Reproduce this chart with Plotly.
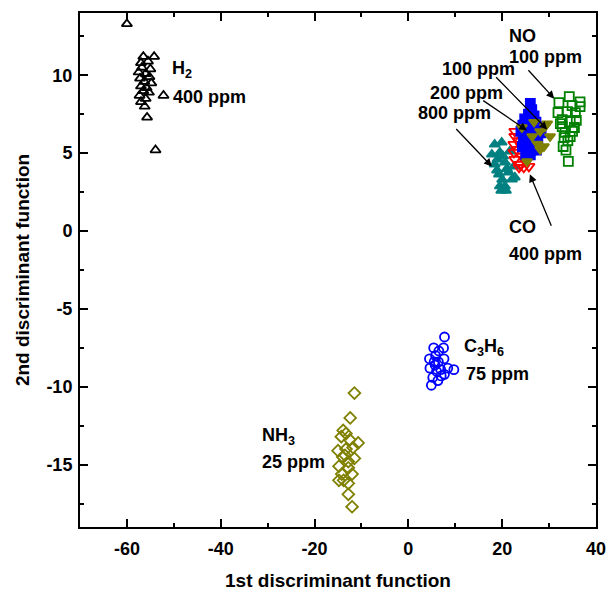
import plotly.graph_objects as go

# ---- data ----
h2_x = [-60.0, -56.5, -54.2, -57.0, -55.5, -56.8, -55.0, -57.5, -56.0, -55.2, -57.2, -56.3, -54.8,
        -57.0, -55.8, -56.5, -55.3, -57.3, -56.0, -52.2, -57.0, -56.2, -55.7, -53.9]
h2_y = [13.3, 11.2, 11.2, 10.8, 10.9, 10.5, 10.4, 10.2, 10.1, 9.9, 9.8, 9.6, 9.5,
        9.3, 9.2, 9.0, 8.9, 8.7, 8.5, 8.7, 8.3, 8.0, 7.3, 5.2]

no_x = [34.3, 32.1, 34.9, 36.6, 36.6, 31.9, 33.9, 35.6, 32.8, 34.5, 32.8, 35.4, 33.4,
        33.2, 34.5, 33.0, 34.1, 35.8, 32.4, 34.0, 35.0, 33.6]
no_y = [8.63, 8.25, 8.05, 8.3, 7.99, 7.6, 7.67, 7.6, 7.16, 7.03, 6.71, 6.65, 6.33,
        6.0, 6.07, 5.43, 4.47, 7.1, 6.9, 5.8, 6.4, 5.2]

b200_x = [26.0, 26.3, 25.6, 26.8, 24.8, 25.8, 27.2, 24.4, 25.3, 26.5, 27.8, 24.0, 25.0,
          26.0, 27.0, 28.3, 24.5, 25.5, 26.6, 27.6, 24.3, 25.3, 26.2, 27.3, 25.0, 26.0]
b200_y = [8.2, 7.8, 7.5, 7.4, 7.2, 7.1, 7.0, 6.8, 6.8, 6.7, 6.7, 6.4, 6.3,
          6.3, 6.2, 6.3, 5.9, 5.8, 5.8, 5.7, 5.4, 5.3, 5.2, 5.2, 4.9, 4.9]

co_x = [22.7, 22.7, 22.5, 23.1, 22.5, 22.7, 23.8, 23.6, 24.6, 25.7, 24.9, 24.2, 23.5, 24.0]
co_y = [6.4, 6.07, 5.56, 5.24, 5.05, 4.6, 4.28, 4.09, 4.09, 4.15, 4.47, 4.8, 5.8, 5.5]

o100_x = [26.8, 29.1, 30.2, 28.9, 28.1, 26.4, 25.3, 28.1, 24.2, 29.6, 27.5]
o100_y = [7.0, 6.7, 6.07, 5.43, 5.24, 6.07, 4.47, 6.4, 6.65, 6.9, 5.6]

t800_x = [18.4, 19.9, 17.8, 19.5, 21.6, 18.4, 20.6, 22.5, 19.3, 21.4, 22.7, 19.5, 20.6,
          22.1, 19.0, 20.2, 18.9, 20.0, 21.0, 19.8, 20.8]
t800_y = [5.56, 5.69, 4.92, 5.05, 5.11, 4.28, 4.41, 4.15, 3.64, 3.77, 3.45, 2.88, 2.88,
          3.32, 4.6, 4.8, 3.9, 3.3, 4.0, 2.6, 2.6]

c3h6_x = [7.7, 5.4, 7.5, 6.5, 4.5, 5.8, 6.4, 7.6, 4.6, 5.7, 6.9, 8.4, 9.7, 6.0, 7.0, 7.7, 5.2, 6.3, 4.9, 5.5]
c3h6_y = [-6.8, -7.5, -7.5, -7.7, -8.2, -8.0, -8.4, -8.2, -8.8, -8.6, -8.9, -8.8, -8.9, -9.0,
          -9.3, -9.2, -9.4, -9.6, -9.9, -8.4]

nh3_x = [-11.5, -12.4, -13.9, -13.3, -14.3, -10.7, -12.5, -15.0, -13.3, -11.8, -14.0, -11.5, -12.8,
         -14.8, -12.8, -14.2, -12.0, -14.8, -12.8, -13.8, -12.8, -12.0, -13.5]
nh3_y = [-10.4, -12.0, -12.8, -13.0, -13.2, -13.6, -13.4, -14.1, -14.0, -13.9, -14.5, -14.6, -14.8,
         -15.1, -15.2, -15.6, -15.6, -16.0, -16.2, -16.0, -16.9, -17.7, -14.4]

x_ticks = [-60, -40, -20, 0, 20, 40]
x_ticktext = ["-60", "-40", "-20", "0", "20", "40"]
y_ticks = [-15, -10, -5, 0, 5, 10]
y_ticktext = ["-15", "-10", "-5", "0", "5", "10"]

FONT = "Liberation Sans, Arial, sans-serif"

fig = go.Figure()

def add(x, y, symbol, color, size=9):
    fig.add_trace(go.Scatter(
        x=x, y=y, mode="markers",
        marker=dict(symbol=symbol, size=size, color=color,
                    line=dict(color=color, width=1.8)),
        showlegend=False, hoverinfo="skip"))

add(h2_x, h2_y, "triangle-up-open", "black")
add(nh3_x, nh3_y, "diamond-open", "#808000")
add(c3h6_x, c3h6_y, "circle-open", "#0000FF")
add(no_x, no_y, "square-open", "#008000")
add(t800_x, t800_y, "triangle-up", "#008080")
add(co_x, co_y, "triangle-down-open", "#FF0000", size=10)
add(b200_x, b200_y, "square", "#0000FF")
add(o100_x, o100_y, "triangle-down", "#808000")

labels = [
    ("NO", 21.0, 12.55), ("100 ppm", 21.0, 11.19),
    ("100 ppm", 6.7, 10.42), ("200 ppm", 4.1, 8.88), ("800 ppm", 1.6, 7.6),
    ("CO", 21.0, 0.25), ("400 ppm", 21.0, -1.45),
    ("H<sub>2</sub>", -50.9, 10.4), ("400 ppm", -50.6, 8.6),
    ("C<sub>3</sub>H<sub>6</sub>", 11.4, -7.5), ("75 ppm", 11.8, -9.2),
    ("NH<sub>3</sub>", -31.6, -13.2), ("25 ppm", -31.6, -14.8),
]
for txt, x, y in labels:
    fig.add_annotation(x=x, y=y, text=txt, showarrow=False, xanchor="left", yanchor="middle",
                       font=dict(family=FONT, size=18, color="black", weight="bold"))

arrows = [
    (31.1, 8.5, 25.3, 10.42),
    (29.6, 6.52, 18.4, 9.97),
    (25.3, 6.46, 15.65, 8.44),
    (17.8, 4.15, 9.9, 6.65),
    (25.9, 3.64, 30.6, 0.25),
]
for hx, hy, tx, ty in arrows:
    fig.add_annotation(x=hx, y=hy, ax=tx, ay=ty, axref="x", ayref="y", xref="x", yref="y",
                       text="", showarrow=True, arrowhead=2, arrowsize=1.2, arrowwidth=1.3,
                       arrowcolor="black")

axis_common = dict(showline=True, linecolor="black", linewidth=2, mirror="ticks",
                   ticks="inside", ticklen=8, tickwidth=2, tickcolor="black",
                   showgrid=False, zeroline=False, automargin=False,
                   tickfont=dict(family=FONT, size=18, color="black", weight="bold"))

fig.update_xaxes(range=[-70, 40], tickvals=x_ticks, ticktext=x_ticktext, ticklabelstandoff=4,
                 minor=dict(dtick=10, tick0=0, ticks="inside", ticklen=4, tickwidth=1.5, tickcolor="black"),
                 title=dict(text="1st discriminant function", standoff=16,
                            font=dict(family=FONT, size=19, color="black", weight="bold")),
                 **axis_common)
fig.update_yaxes(range=[-19, 14], tickvals=y_ticks, ticktext=y_ticktext, ticklabelstandoff=2,
                 minor=dict(dtick=2.5, tick0=0, ticks="inside", ticklen=4, tickwidth=1.5, tickcolor="black"),
                 title=dict(text="2nd discriminant function", standoff=12,
                            font=dict(family=FONT, size=19, color="black", weight="bold")),
                 **axis_common)

fig.update_layout(width=613, height=593, margin=dict(l=80, r=17, t=13, b=66),
                  plot_bgcolor="white", paper_bgcolor="white")

fig.write_html("out.html")
